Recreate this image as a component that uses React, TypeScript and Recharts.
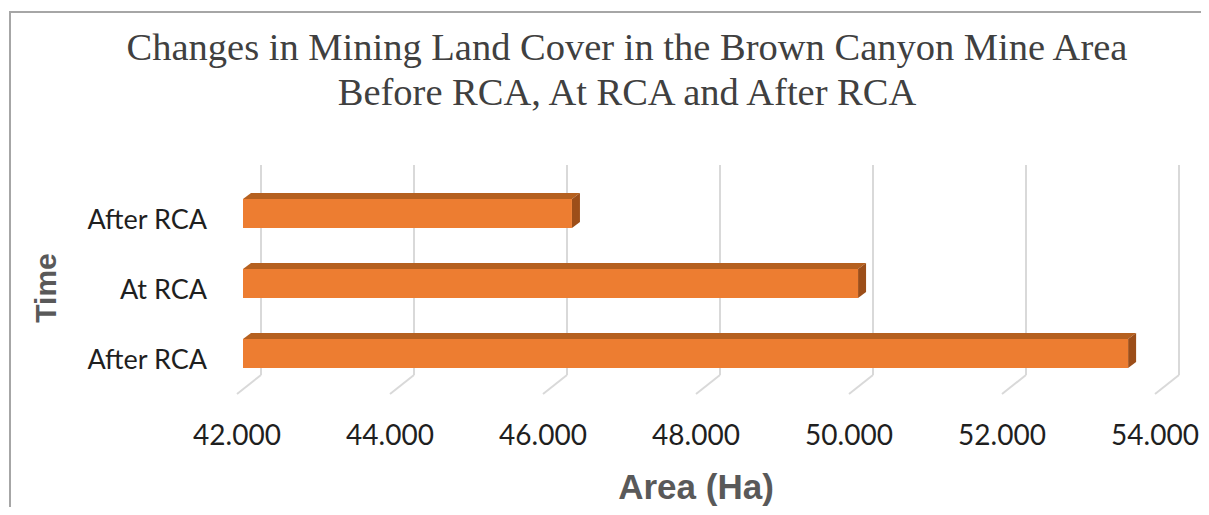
import React from "react";
import { BarChart, Bar, XAxis, YAxis, CartesianGrid } from "recharts";

// top to bottom, as labelled in the picture
const periods = ["After RCA", "At RCA", "After RCA"];
const areaHa = [46300, 50040, 53570];
const areaTicks = [42000, 44000, 46000, 48000, 50000, 52000, 54000];

const chartData = periods.map((p, i) => ({ time: p, area: areaHa[i] }));

const W = 1209;
const H = 515;

// oblique 3D offsets of the floor
const DEPTH_X = 24;
const DEPTH_Y = 19;

// 42000 -> "42.000"
const fmt = (v: number) => {
  const s = String(Math.round(v));
  return s.slice(0, s.length - 3) + "." + s.slice(-3);
};

const Bar3D = (props: any) => {
  const { x, y, width, height } = props;
  if (width == null || width <= 0) return null;
  const fx = x - 18;
  const fy = y + 13;
  const dx = 8;
  const dy = 6;
  return (
    <g>
      <polygon
        points={`${fx},${fy} ${fx + dx},${fy - dy} ${fx + width + dx},${fy - dy} ${fx + width},${fy}`}
        fill="#B5601F"
      />
      <polygon
        points={`${fx + width},${fy} ${fx + width + dx},${fy - dy} ${fx + width + dx},${fy + height - dy} ${fx + width},${fy + height}`}
        fill="#9C4E19"
      />
      <rect x={fx} y={fy} width={width} height={height} fill="#ED7D31" />
    </g>
  );
};

const XTick = (props: any) => {
  const { x, y, payload } = props;
  return (
    <g>
      <line x1={x} y1={y} x2={x - DEPTH_X} y2={y + DEPTH_Y} stroke="#d9d9d9" strokeWidth={2} />
      <text
        x={x - DEPTH_X}
        y={y + 70}
        textAnchor="middle"
        fontFamily="Lato, 'Open Sans', sans-serif"
        fontSize={28}
        fill="#1f1f1f"
      >
        {fmt(payload.value)}
      </text>
    </g>
  );
};

const YTick = (props: any) => {
  const { y, payload } = props;
  return (
    <text
      x={207}
      y={y + 29}
      textAnchor="end"
      fontFamily="Lato, 'Open Sans', sans-serif"
      fontSize={27}
      fill="#1f1f1f"
    >
      {payload.value}
    </text>
  );
};

export default function App() {
  return (
    <div style={{ position: "relative", width: W, height: H, margin: -8, overflow: "hidden", background: "#fff" }}>
      <div
        style={{
          position: "absolute",
          left: 9,
          top: 11,
          width: W + 20,
          height: H + 20,
          border: "2px solid #a6a6a6",
        }}
      />
      <div
        style={{
          position: "absolute",
          left: 0,
          top: 25,
          width: 1254,
          textAlign: "center",
          fontFamily: "'Liberation Serif', 'Times New Roman', serif",
          fontSize: 38.5,
          lineHeight: "45px",
          color: "#404040",
          whiteSpace: "nowrap",
        }}
      >
        Changes in Mining Land Cover in the Brown Canyon Mine Area
        <br />
        Before RCA, At RCA and After RCA
      </div>
      <div style={{ position: "absolute", left: 0, top: 0 }}>
        <BarChart
          width={W}
          height={H}
          data={chartData}
          layout="vertical"
          margin={{ top: 165, right: 30, left: 0, bottom: 0 }}
        >
          <CartesianGrid horizontal={false} stroke="#d9d9d9" strokeWidth={2} />
          <XAxis
            type="number"
            dataKey="area"
            domain={[42000, 54000]}
            ticks={areaTicks}
            interval={0}
            height={140}
            axisLine={false}
            tickLine={false}
            tickSize={0}
            tickMargin={0}
            tick={<XTick />}
          />
          <YAxis
            type="category"
            dataKey="time"
            width={261}
            axisLine={false}
            tickLine={false}
            tickSize={0}
            tick={<YTick />}
          />
          <Bar dataKey="area" barSize={29} shape={<Bar3D />} isAnimationActive={false} />
        </BarChart>
      </div>
      <div
        style={{
          position: "absolute",
          left: 546,
          top: 467,
          width: 300,
          textAlign: "center",
          fontFamily: "'Liberation Sans', Arial, sans-serif",
          fontWeight: 700,
          fontSize: 35,
          lineHeight: "40px",
          color: "#595959",
        }}
      >
        Area (Ha)
      </div>
      <div
        style={{
          position: "absolute",
          left: 46,
          top: 288,
          transform: "translate(-50%, -50%) rotate(-90deg)",
          fontFamily: "'Liberation Sans', Arial, sans-serif",
          fontWeight: 700,
          fontSize: 30,
          lineHeight: "34px",
          color: "#595959",
          whiteSpace: "nowrap",
        }}
      >
        Time
      </div>
    </div>
  );
}
